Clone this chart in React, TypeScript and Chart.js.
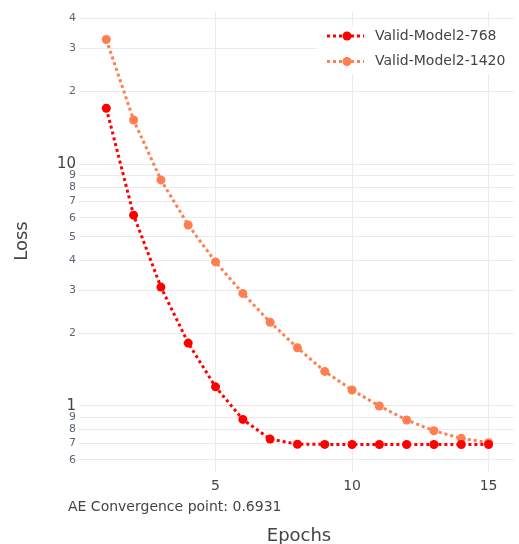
import React, { useEffect, useRef } from "react";
import { Chart, registerables } from "chart.js";

Chart.register(...registerables);

const epochs = [1, 2, 3, 4, 5, 6, 7, 8, 9, 10, 11, 12, 13, 14, 15];
const model768 = [17.0, 6.15, 3.1, 1.82, 1.2, 0.88, 0.73, 0.695, 0.694, 0.6935, 0.6932, 0.6931, 0.6931, 0.6931, 0.6931];
const model1420 = [32.7, 15.2, 8.6, 5.6, 3.94, 2.92, 2.22, 1.74, 1.39, 1.165, 1.0, 0.875, 0.79, 0.735, 0.705];
const seriesNames = ["Valid-Model2-768", "Valid-Model2-1420"];
const seriesColors = ["#ff0000", "#ff7f50"];
const yTickValues = [0.6, 0.7, 0.8, 0.9, 1, 2, 3, 4, 5, 6, 7, 8, 9, 10, 20, 30, 40];
const yTickLabels = ["6", "7", "8", "9", "1", "2", "3", "4", "5", "6", "7", "8", "9", "10", "2", "3", "4"];
const xTickValues = [5, 10, 15];
const xTitle = "Epochs";
const yTitle = "Loss";
const annotationText = "AE Convergence point: 0.6931";

const FONT = '"DejaVu Sans", sans-serif';

export default function App() {
  const ref = useRef<HTMLCanvasElement>(null);
  useEffect(() => {
    if (!ref.current) return;
    const overlay = {
      id: "overlay",
      afterDraw(chart: any) {
        const ctx = chart.ctx;
        ctx.save();
        // legend
        ctx.fillStyle = "#ffffff";
        ctx.fillRect(317, 27, 202, 47);
        seriesNames.forEach((name, i) => {
          const y = 36 + i * 25.5;
          ctx.strokeStyle = seriesColors[i];
          ctx.lineWidth = 3;
          ctx.setLineDash([3, 3]);
          ctx.beginPath();
          ctx.moveTo(327, y);
          ctx.lineTo(364, y);
          ctx.stroke();
          ctx.setLineDash([]);
          ctx.fillStyle = seriesColors[i];
          ctx.beginPath();
          ctx.arc(347, y, 4.5, 0, Math.PI * 2);
          ctx.fill();
          ctx.fillStyle = "#444";
          ctx.font = `14px ${FONT}`;
          ctx.textAlign = "left";
          ctx.textBaseline = "middle";
          ctx.fillText(name, 375, y);
        });
        // titles
        ctx.fillStyle = "#444";
        ctx.font = `18px ${FONT}`;
        ctx.textAlign = "center";
        ctx.textBaseline = "alphabetic";
        ctx.fillText(xTitle, 299, 541);
        ctx.save();
        ctx.translate(22, 241);
        ctx.rotate(-Math.PI / 2);
        ctx.textBaseline = "middle";
        ctx.fillText(yTitle, 0, 0);
        ctx.restore();
        ctx.font = `14px ${FONT}`;
        ctx.textAlign = "left";
        ctx.textBaseline = "middle";
        ctx.fillText(annotationText, 68, 507);
        ctx.restore();
      },
    };
    const chart = new Chart(ref.current, {
      type: "line",
      data: {
        datasets: [model768, model1420].map((vals, i) => ({
          label: seriesNames[i],
          data: vals.map((v, j) => ({ x: epochs[j], y: v })),
          borderColor: seriesColors[i],
          backgroundColor: seriesColors[i],
          borderWidth: 3,
          borderDash: [3, 3],
          pointRadius: 4.5,
          pointBorderWidth: 0,
          pointBackgroundColor: seriesColors[i],
          tension: 0,
          fill: false,
        })),
      },
      options: {
        animation: false,
        responsive: false,
        layout: { padding: { top: 12, left: 0, right: 0, bottom: 0 } },
        plugins: { legend: { display: false }, tooltip: { enabled: false } },
        scales: {
          x: {
            type: "linear",
            min: 0,
            max: 15.95,
            afterBuildTicks: (s: any) => {
              s.ticks = xTickValues.map((v) => ({ value: v }));
            },
            afterFit: (s: any) => {
              s.height = 72;
            },
            grid: { color: "#ebebeb", lineWidth: 1, drawTicks: false },
            border: { display: false },
            ticks: {
              autoSkip: false,
              maxRotation: 0,
              padding: 6,
              color: "#444",
              font: { family: FONT, size: 14 },
              callback: (v: any) => String(v),
            },
          },
          y: {
            type: "logarithmic",
            min: 0.5336,
            max: 42.5,
            afterBuildTicks: (s: any) => {
              s.ticks = yTickValues.map((v) => ({ value: v }));
            },
            afterFit: (s: any) => {
              s.width = 79;
            },
            grid: { color: "#ebebeb", lineWidth: 1, drawTicks: false },
            border: { display: false },
            ticks: {
              autoSkip: false,
              padding: 3,
              color: (c: any) => (c.tick && (c.tick.value === 1 || c.tick.value === 10) ? "#444" : "#5a6578"),
              font: (c: any) => ({
                family: FONT,
                size: c.tick && (c.tick.value === 1 || c.tick.value === 10) ? 15 : 11,
              }),
              callback: (v: any, i: number) => yTickLabels[i],
            },
          },
        },
      },
      plugins: [overlay],
    });
    return () => chart.destroy();
  }, []);
  return (
    <div style={{ position: "fixed", left: 0, top: 0, width: 519, height: 544, background: "#fff" }}>
      <canvas ref={ref} width={519} height={544} style={{ display: "block" }} />
    </div>
  );
}
